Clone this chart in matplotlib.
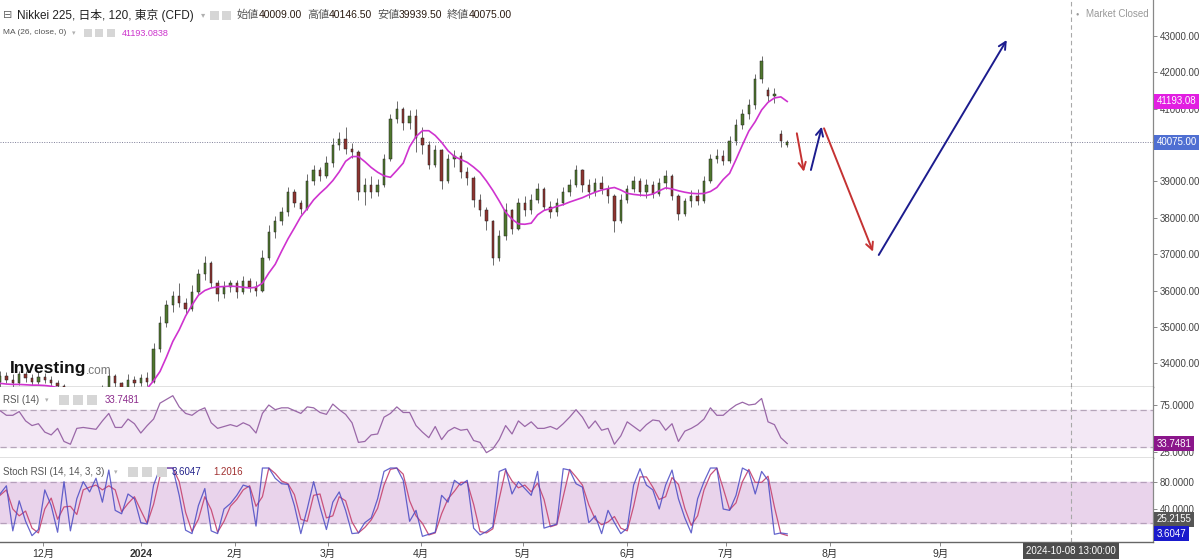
import matplotlib
matplotlib.use('Agg')
import matplotlib.pyplot as plt
import numpy as np
from matplotlib.patches import Rectangle
from matplotlib.ticker import FuncFormatter

plt.rcParams['font.family'] = ['Liberation Sans', 'DejaVu Sans', 'Noto Sans CJK JP']

# ---- data (one sample per slot) ----
opens = [33500, 33650, 33550, 33450, 33700, 33600, 33500, 33620, 33550, 33450,
         33380, 33200, 33100, 32950, 33050, 32900, 33100, 33300, 33650, 33450,
         33300, 33550, 33450, 33600, 33500, 34400, 35100, 35600, 35850, 35650,
         35500, 35950, 36450, 36750, 36200, 35900, 36100, 36200, 35950, 36250,
         36100, 36000, 36900, 37600, 37900, 38150, 38700, 38400, 38250, 39000,
         39300, 39150, 39500, 40000, 40150, 39900, 39800, 38700, 38900, 38700,
         38900, 39600, 40700, 41000, 40600, 40800, 40200, 40000, 39450, 39850,
         39000, 39600, 39700, 39250, 39100, 38500, 38200, 37900, 36900, 37500,
         38200, 37700, 38400, 38200, 38500, 38800, 38300, 38150, 38400, 38700,
         38900, 39300, 38900, 38700, 38950, 38800, 38600, 37900, 38500, 38800,
         39000, 38700, 38900, 38650, 38950, 39150, 38600, 38100, 38450, 38600,
         38450, 39000, 39600, 39700, 39550, 40100, 40550, 40850, 41100, 41800,
         41500, 41350, 40300, 40009]
highs = [33800, 33750, 33700, 33780, 33800, 33700, 33800, 33720, 33650, 33550,
         33420, 33300, 33200, 33150, 33100, 33200, 33400, 33850, 33700, 33500,
         33700, 33650, 33700, 33750, 34550, 35300, 35750, 36000, 36200, 35800,
         36150, 36600, 36950, 36800, 36300, 36250, 36300, 36300, 36400, 36350,
         36250, 37100, 37800, 38050, 38300, 38850, 38800, 38500, 39200, 39450,
         39400, 39700, 40200, 40350, 40500, 40050, 39850, 39100, 39150, 39050,
         39750, 40850, 41200, 41050, 40950, 41000, 40500, 40100, 40000, 39900,
         39750, 39850, 39800, 39400, 39150, 38650, 38300, 37950, 37650, 38400,
         38250, 38550, 38600, 38650, 38950, 38850, 38450, 38550, 38850, 39050,
         39450, 39350, 39050, 39100, 39150, 38900, 38650, 38650, 38900, 39150,
         39100, 39050, 39000, 39100, 39300, 39200, 38650, 38550, 38750, 38800,
         39150, 39750, 39900, 39850, 40250, 40700, 41000, 41250, 41950, 42450,
         41600, 41550, 40400, 40146.5]
lows = [33300, 33450, 33350, 33400, 33500, 33400, 33420, 33450, 33380, 33250,
        33150, 33000, 32850, 32850, 32750, 32800, 33000, 33250, 33300, 33200,
        33250, 33350, 33380, 33380, 33450, 34300, 35000, 35400, 35550, 35350,
        35450, 35900, 36300, 36100, 35700, 35800, 35950, 35800, 35900, 35950,
        35850, 35950, 36850, 37450, 37800, 38050, 38300, 38100, 38200, 38900,
        39000, 39100, 39400, 39850, 39750, 39650, 38500, 38350, 38550, 38600,
        38850, 39550, 40600, 40400, 40450, 39800, 39750, 39350, 39400, 38800,
        38950, 39400, 39100, 38900, 38300, 38050, 37650, 36700, 36800, 37400,
        37550, 37650, 38050, 38100, 38400, 38200, 38000, 38050, 38350, 38600,
        38850, 38700, 38550, 38600, 38650, 38400, 37600, 37850, 38400, 38700,
        38600, 38550, 38550, 38600, 38800, 38500, 37950, 38050, 38300, 38350,
        38400, 38950, 39500, 39450, 39500, 40000, 40450, 40700, 41000, 41700,
        41200, 41150, 39950, 39939.5]
closes = [33650, 33550, 33450, 33700, 33600, 33500, 33620, 33550, 33450, 33380,
          33200, 33100, 32950, 33050, 32900, 33100, 33300, 33650, 33450, 33300,
          33550, 33450, 33600, 33500, 34400, 35100, 35600, 35850, 35650, 35500,
          35950, 36450, 36750, 36200, 35900, 36100, 36200, 35950, 36250, 36100,
          36000, 36900, 37600, 37900, 38150, 38700, 38400, 38250, 39000, 39300,
          39150, 39500, 40000, 40150, 39900, 39800, 38700, 38900, 38700, 38900,
          39600, 40700, 41000, 40600, 40800, 40200, 40000, 39450, 39850, 39000,
          39600, 39700, 39250, 39100, 38500, 38200, 37900, 36900, 37500, 38200,
          37700, 38400, 38200, 38500, 38800, 38300, 38150, 38400, 38700, 38900,
          39300, 38900, 38700, 38950, 38800, 38600, 37900, 38500, 38800, 39000,
          38700, 38900, 38650, 38950, 39150, 38600, 38100, 38450, 38600, 38450,
          39000, 39600, 39700, 39550, 40100, 40550, 40850, 41100, 41800, 42300,
          41350, 41400, 40100, 40075]
ma26 = [33450, 33430, 33420, 33420, 33410, 33400, 33400, 33390, 33370, 33330,
        33280, 33230, 33180, 33140, 33100, 33070, 33060, 33080, 33120, 33160,
        33200, 33230, 33260, 33310, 33520, 33775, 34170, 34600, 34920, 35300,
        35600, 35870, 36000, 36070, 36100, 36110, 36120, 36110, 36090, 36070,
        36090, 36200, 36480, 36720, 37080, 37420, 37720, 38030, 38250, 38490,
        38670, 38830, 39020, 39260, 39550, 39680, 39680, 39540, 39380, 39250,
        39150, 39110, 39300, 39500, 39950, 40230, 40390, 40390, 40260, 40070,
        39840, 39680, 39600, 39520, 39390, 39240, 39010, 38750, 38460, 38150,
        37960, 37830, 37820, 37850, 38080, 38200, 38250, 38310, 38360, 38430,
        38490, 38550, 38630, 38700, 38760, 38800, 38830, 38760, 38670, 38640,
        38620, 38610, 38650, 38740, 38820, 38790, 38740, 38700, 38670, 38660,
        38665, 38720, 38830, 39050, 39220, 39600, 40000, 40380, 40640, 40960,
        41170, 41290, 41320, 41193.08]
rsi14 = [69, 64, 64, 68, 58, 53, 55, 46, 43, 50,
         36, 33, 50, 51, 50, 49, 58, 66, 51, 51,
         60, 55, 45, 53, 60, 77, 81, 85, 73, 66,
         64, 69, 72, 56, 50, 52, 54, 52, 56, 53,
         45, 66, 75, 70, 72, 72, 69, 66, 73, 72,
         67, 65, 76, 70, 65, 56, 35, 36, 43, 44,
         62, 66, 73, 67, 67, 53, 46, 40, 52, 38,
         47, 51, 48, 49, 37, 35, 24, 28, 38, 53,
         44, 58, 52, 57, 50, 50, 52, 49, 55, 62,
         70, 62, 50, 58, 48, 50, 33, 42, 57, 52,
         47, 54, 59, 58, 48, 55, 36, 47, 50, 54,
         60, 72, 64, 64, 70, 75, 78, 75, 76, 82,
         57, 54, 40, 33.7481]
stoch_k = [62, 74, 8, 52, 22, 1, 10, 68, 45, 6,
           80, 8, 55, 80, 65, 85, 50, 97, 38, 33,
           62, 55, 20, 18, 75, 100, 100, 100, 60, 9,
           4, 45, 70, 8, 4, 40, 48, 60, 75, 72,
           15, 100, 100, 85, 77, 76, 45, 4, 40, 80,
           43, 10, 50, 65, 38, 4, 5, 20, 27, 55,
           95, 100, 100, 82, 22, 38, 0, 3, 6, 60,
           50, 82, 75, 82, 12, 2, 7, 14, 95, 99,
           62, 80, 70, 60, 95, 12, 15, 18, 99, 97,
           77, 72, 20, 30, 4, 38, 20, 4, 12, 75,
           99, 75, 68, 40, 75, 97, 55, 27, 5, 55,
           80, 100, 100, 40, 38, 60, 100, 95, 62, 95,
           82, 3, 5, 3.6047]
stoch_d = [60, 68, 40, 30, 37, 12, 5, 40, 56, 25,
           43, 44, 32, 68, 72, 75, 68, 74, 68, 36,
           48, 58, 38, 19, 47, 88, 100, 100, 80, 35,
           7, 25, 58, 39, 6, 22, 44, 54, 68, 74,
           44, 58, 100, 92, 81, 77, 61, 25, 22, 60,
           62, 27, 30, 58, 52, 21, 5, 13, 24, 41,
           75, 98, 100, 91, 52, 30, 19, 2, 5, 33,
           55, 66, 79, 79, 47, 7, 5, 11, 55, 97,
           81, 71, 75, 65, 78, 54, 14, 17, 58, 98,
           87, 75, 46, 25, 17, 21, 29, 12, 8, 44,
           87, 87, 72, 54, 58, 86, 76, 41, 16, 30,
           68, 90, 100, 70, 39, 49, 80, 98, 79, 79,
           88, 43, 4, 1.2016]

month_ticks = [6.7, 22.0, 36.7, 51.25, 65.8, 81.7, 98.0, 113.4, 129.7, 146.9]
month_labels = ['12月', '2024', '2月', '3月', '4月', '5月', '6月', '7月', '8月', '9月']
cursor_slot = 167.3

# hand-drawn forecast arrows (slot, price)
arrow_x0 = [124.5, 126.7, 128.75, 137.3]
arrow_y0 = [40319, 39311, 40456, 36976]
arrow_x1 = [125.6, 128.4, 136.4, 157.3]
arrow_y1 = [39264, 40500, 37067, 42882]
arrow_colors = ['#c53232', '#1c1c8e', '#c53232', '#1c1c8e']

# ---- figure ----
W, H = 1200, 559
fig = plt.figure(figsize=(W / 100, H / 100), dpi=100)
fig.patch.set_facecolor('white')


def panel(top, bottom):
    return fig.add_axes([0, 1 - bottom / H, 1153 / W, (bottom - top) / H])


ax = panel(0, 387)
ax_rsi = panel(387, 457.7)
ax_st = panel(457.7, 542)

x = np.arange(len(closes))
o = np.array(opens)
c = np.array(closes)
up = c >= o
body_col = np.where(up, '#50772e', '#8e3430')
ax.vlines(x, lows, highs, color='#555555', lw=0.6, zorder=2)
ax.bar(x, np.maximum(np.abs(c - o), 25), bottom=np.minimum(o, c), width=0.36,
       color=body_col, edgecolor='#222222', linewidth=0.35, zorder=3)
ax.plot(x, ma26, color='#cf33cf', lw=1.2, zorder=4)
ax.axhline(40075, color='#7f7f99', lw=0.7, ls=(0, (1, 1.5)), zorder=1)

for sx, sy, ex, ey, col in zip(arrow_x0, arrow_y0, arrow_x1, arrow_y1, arrow_colors):
    ax.annotate('', xy=(ex, ey), xytext=(sx, sy),
                arrowprops=dict(arrowstyle='->', color=col, lw=1.4,
                                mutation_scale=13, shrinkA=0, shrinkB=0))

ax.set_ylim(33349, 43981)
# 40000 sits under the last-price tag, as on the original scale
ax.set_yticks([34000, 35000, 36000, 37000, 38000, 39000, 41000, 42000, 43000])
ax.yaxis.set_major_formatter(FuncFormatter(lambda v, p: f'{v:.2f}'))

# RSI
ax_rsi.axhspan(30, 70, color='#f3e8f5', zorder=0)
for lvl in (30, 70):
    ax_rsi.axhline(lvl, color='#b5a5ba', lw=0.9, ls=(0, (5, 3)), zorder=1)
ax_rsi.plot(x, rsi14, color='#9a68a8', lw=0.9, zorder=3)
ax_rsi.set_ylim(18.6, 94.3)
ax_rsi.set_yticks([25, 75])
ax_rsi.yaxis.set_major_formatter(FuncFormatter(lambda v, p: f'{v:.4f}'))

# Stoch RSI
ax_st.axhspan(20, 80, color='#e9d3eb', zorder=0)
for lvl in (20, 80):
    ax_st.axhline(lvl, color='#b59fbb', lw=0.9, ls=(0, (5, 3)), zorder=1)
ax_st.plot(x, stoch_d, color='#c9527c', lw=0.9, zorder=3)
ax_st.plot(x, stoch_k, color='#4a4ac4', lw=0.9, alpha=0.85, zorder=4)
ax_st.set_ylim(-8.3, 115.1)
ax_st.set_yticks([40, 80])
ax_st.yaxis.set_major_formatter(FuncFormatter(lambda v, p: f'{v:.4f}'))

for a in (ax, ax_rsi, ax_st):
    a.set_xlim(0, 180.15)
    a.set_facecolor('white')
    a.axvline(cursor_slot, color='#a8a8a8', lw=0.8, ls=(0, (4, 3)), zorder=1)
    a.spines['top'].set_visible(False)
    a.spines['left'].set_visible(False)
    a.spines['right'].set_color('#888888')
    a.spines['right'].set_linewidth(0.9)
    a.spines['bottom'].set_color('#666666')
    a.spines['bottom'].set_linewidth(1.0)
    a.yaxis.tick_right()
    a.tick_params(axis='y', length=3, width=0.6, color='#777777',
                  labelsize=7, labelcolor='#444444', pad=2)
    a.tick_params(axis='x', bottom=False, labelbottom=False)

ax_st.set_xticks(month_ticks)
ax_st.set_xticklabels(month_labels)
ax_st.tick_params(axis='x', bottom=True, labelbottom=True, length=3, width=0.6,
                  color='#777777', labelsize=7.5, labelcolor='#333333', pad=2)
ax_st.get_xticklabels()[1].set_fontweight('bold')


# value tags on the price scales
def tag(a, val, s, fc):
    a.text(1.003, val, s, transform=a.get_yaxis_transform(), ha='left', va='center',
           fontsize=7, color='white', clip_on=False, zorder=10,
           bbox=dict(boxstyle='square,pad=0.25', fc=fc, ec='none'))


tag(ax, 41193.08, '41193.08', '#e21ee2')
tag(ax, 40075, '40075.00', '#4f6fd2')
tag(ax_rsi, 33.7481, '33.7481', '#8b168b')
tag(ax_st, 25.2155, '25.2155', '#555555')
tag(ax_st, 3.6047, '3.6047', '#1a1acc')


def ftext(px, py, s, **kw):
    kw.setdefault('va', 'center')
    fig.text(px / W, 1 - py / H, s, **kw)


def icons(xs, y0, size):
    for xx in xs:
        fig.add_artist(Rectangle((xx / W, 1 - (y0 + size) / H), size / W, size / H,
                                 transform=fig.transFigure, fc='#d6d6d6', ec='none'))


# header
ftext(3, 15, '⊟', fontsize=8, color='#666666')
ftext(17, 15, 'Nikkei 225, 日本, 120, 東京 (CFD)', fontsize=8.5, color='#222222')
ftext(201, 16, '▾', fontsize=6, color='#b0b0b0')
icons([210, 222], 11, 9)
ohlc_names = ['始値', '高値', '安値', '終値']
ohlc_vals = ['40009.00', '40146.50', '39939.50', '40075.00']
for px0, nm, vv in zip([237, 307, 377, 447], ohlc_names, ohlc_vals):
    ftext(px0, 15, nm, fontsize=8, color='#555555')
    ftext(px0 + 22, 15, vv, fontsize=7.5, color='#2a1a10')

ftext(3, 33, 'MA (26, close, 0)', fontsize=6, color='#555555')
ftext(72, 34, '▾', fontsize=5, color='#b0b0b0')
icons([84, 95, 107], 29, 8)
ftext(122, 33, '41193.0838', fontsize=6.5, color='#cc33cc')

ftext(1075, 14, '●', fontsize=4, color='#999999')
ftext(1086, 14, 'Market Closed', fontsize=7, color='#999999')

ftext(10, 368, 'Investing', fontsize=12.5, fontweight='bold', color='#111111')
ftext(86, 371, '.com', fontsize=8.5, color='#777777')

# indicator headers
ftext(3, 400, 'RSI (14)', fontsize=7, color='#555555')
ftext(45, 401, '▾', fontsize=5, color='#b0b0b0')
icons([59, 73, 87], 395, 10)
ftext(105, 400, '33.7481', fontsize=7, color='#8b2a8b')

ftext(3, 472, 'Stoch RSI (14, 14, 3, 3)', fontsize=7, color='#555555')
ftext(114, 473, '▾', fontsize=5, color='#b0b0b0')
icons([128, 142, 157], 467, 10)
ftext(172, 472, '3.6047', fontsize=7, color='#22228a')
ftext(213, 472, '1.2016', fontsize=7, color='#a03030')

ftext(1071, 551, '2024-10-08 13:00:00', ha='center', fontsize=7, color='white',
      bbox=dict(boxstyle='square,pad=0.3', fc='#4d4d4d', ec='none'))

fig.savefig('out.png', dpi=100, facecolor='white')
